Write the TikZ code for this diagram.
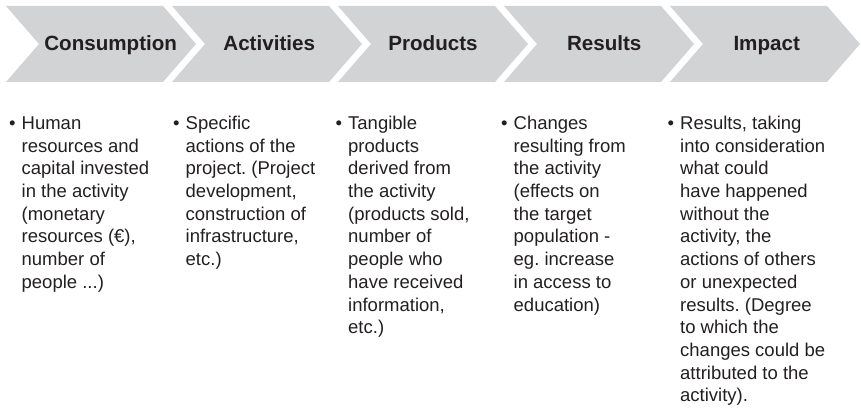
\documentclass[tikz,border=0pt]{standalone}
\usepackage{fontspec}
\setmainfont{Liberation Sans}
\frenchspacing
\definecolor{chevgrey}{HTML}{D1D3D4}
\definecolor{inkblack}{HTML}{231F20}
\newcommand{\bulletcol}[1]{\textbullet\hspace{6pt}\begin{tabular}[t]{@{}l@{}}#1\end{tabular}}

\begin{document}
\begin{tikzpicture}[x=1pt,y=1pt,
    chevron/.style={fill=chevgrey},
    head/.style={font=\fontsize{20.6}{24}\selectfont\bfseries,text=inkblack,
                 inner sep=0pt,anchor=base},
    desc/.style={font=\fontsize{18.5}{22.7}\selectfont,text=inkblack,
                 inner sep=0pt,anchor=base west}]
\useasboundingbox (0,0) rectangle (861,407);
% chevrons
\foreach \i in {0,...,4}{
  \pgfmathsetmacro{\xl}{6+166*\i}
  \fill[chevron] (\xl,401) -- ++(157,0) -- ++(33,-38) -- ++(-33,-38)
                 -- ++(-157,0) -- ++(33,38) -- cycle;
}
% headings
\node[head] (consumption) at (110.7,356) {Consumption};
\node[head] (activities) at (269.2,356) {Activities};
\node[head] (products) at (433,356) {Products};
\node[head] (results) at (604.2,356) {Results};
\node[head] (impact) at (766.7,356) {Impact};
% descriptions
\node[desc] (consumptiontxt) at (9,277.5) {\bulletcol{Human\\resources and\\capital invested\\in the activity\\(monetary\\resources (€),\\number of\\people ...)}};
\node[desc] (activitiestxt) at (173,277.5) {\bulletcol{Specific\\actions of the\\project. (Project\\development,\\construction of\\infrastructure,\\etc.)}};
\node[desc] (productstxt) at (335.5,277.5) {\bulletcol{Tangible\\products\\derived from\\the activity\\(products sold,\\number of\\people who\\have received\\information,\\etc.)}};
\node[desc] (resultstxt) at (501,277.5) {\bulletcol{Changes\\resulting from\\the activity\\(effects on\\the target\\population -\\eg. increase\\in access to\\education)}};
\node[desc] (impacttxt) at (667.5,277.5) {\bulletcol{Results, taking\\into consideration\\what could\\have happened\\without the\\activity, the\\actions of others\\or unexpected\\results. (Degree\\to which the\\changes could be\\attributed to the\\activity).}};
\end{tikzpicture}
\end{document}
